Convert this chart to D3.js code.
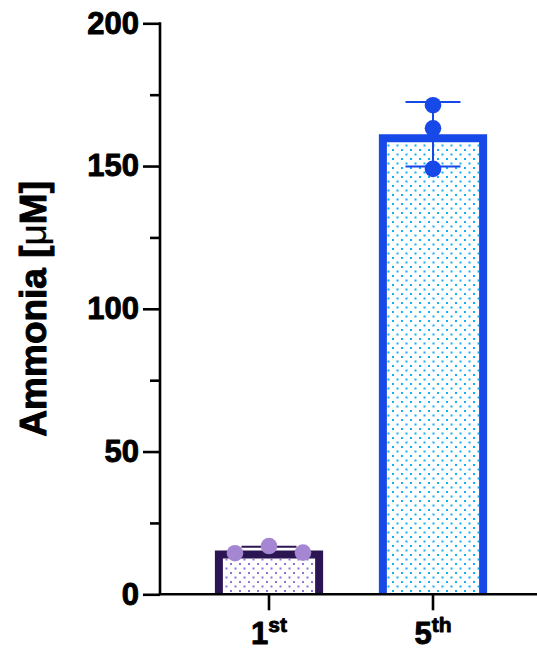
<!DOCTYPE html>
<html>
<head>
<meta charset="utf-8">
<script src="https://cdn.jsdelivr.net/npm/d3@7"></script>
<style>
  html, body { margin: 0; padding: 0; background: #fff; }
  svg { display: block; }
  text { font-family: "Liberation Sans", Arial, sans-serif; font-weight: bold; }
</style>
</head>
<body>
<svg id="chart" width="537" height="652"></svg>
<script>
// Passage groups and their replicate ammonia measurements (µM)
const categories = ["1st", "5th"];
const tickBase = ["1", "5"];
const tickSup = ["st", "th"];
const replicates = [
  [14.4, 16.9, 14.6],
  [171.3, 163.2, 149.0]
];
const yMajorTicks = [0, 50, 100, 150, 200];
const yMinorTicks = [25, 75, 125, 175];
const yTitle = "Ammonia [";
const yUnitPrefix = "\u03bc";
const yTitleEnd = "M]";

// Per-group styling
const strokeColors = ["#2b1653", "#1748e8"];
const dotColors = ["#a586d2", "#1748e8"];
const patternColors = ["#9472d4", "#12b0f4"];

const W = 537, H = 652;
const svg = d3.select("#chart");

const y = d3.scaleLinear().domain([0, 200]).range([594.3, 23.3]);
const x = d3.scaleBand().domain(categories).range([187, 515])
  .paddingInner(0.34).paddingOuter(0.17);
const axisX = 160;

const mean = a => d3.mean(a);
const sd = a => d3.deviation(a);

// Heavier text rendering
const heavy = (sel, w) => sel.attr("stroke", "#000").attr("stroke-width", w)
  .attr("stroke-linejoin", "round").attr("paint-order", "stroke");

// Dotted fill patterns
const defs = svg.append("defs");
categories.forEach((c, i) => {
  const p = defs.append("pattern")
    .attr("id", "pat" + i)
    .attr("patternUnits", "userSpaceOnUse")
    .attr("width", 9).attr("height", 9);
  p.append("rect").attr("width", 9).attr("height", 9).attr("fill", "#fff");
  p.append("rect").attr("x", 0.5).attr("y", 0.5).attr("width", 2).attr("height", 2).attr("fill", patternColors[i]);
  p.append("rect").attr("x", 5).attr("y", 5).attr("width", 2).attr("height", 2).attr("fill", patternColors[i]);
});

// Bars: outer edge sits on the mean, border drawn inward
const sw = 8;
const bars = svg.append("g");
categories.forEach((c, i) => {
  const m = mean(replicates[i]);
  const x0 = x(c), bw = x.bandwidth();
  const yt = y(m), yb = y(0);
  bars.append("rect")
    .attr("x", x0 + sw).attr("y", yt + sw)
    .attr("width", bw - 2 * sw).attr("height", yb - yt - sw)
    .attr("fill", `url(#pat${i})`);
  bars.append("path")
    .attr("d", `M${x0 + sw / 2},${yb} V${yt + sw / 2} H${x0 + bw - sw / 2} V${yb}`)
    .attr("fill", "none")
    .attr("stroke", strokeColors[i])
    .attr("stroke-width", sw)
    .attr("stroke-linejoin", "miter");
});

// Error bars (mean ± SD)
const capW = 55;
const errs = svg.append("g");
categories.forEach((c, i) => {
  const m = mean(replicates[i]), s = sd(replicates[i]);
  const cx = x(c) + x.bandwidth() / 2;
  const col = strokeColors[i];
  errs.append("line").attr("x1", cx).attr("x2", cx)
    .attr("y1", y(m - s)).attr("y2", y(m + s))
    .attr("stroke", col).attr("stroke-width", 2);
  [m - s, m + s].forEach(v => {
    errs.append("line").attr("x1", cx - capW / 2).attr("x2", cx + capW / 2)
      .attr("y1", y(v)).attr("y2", y(v))
      .attr("stroke", col).attr("stroke-width", 2);
  });
});

// Replicate points, spread sideways where they would overlap
const r = 8.3, spread = 34;
const dots = svg.append("g");
categories.forEach((c, i) => {
  const cx = x(c) + x.bandwidth() / 2;
  const vals = replicates[i];
  const order = d3.range(vals.length).sort((a, b) => vals[b] - vals[a]);
  const placed = [];
  order.forEach(k => {
    const py = y(vals[k]);
    const tries = [0, spread, -spread, 2 * spread, -2 * spread];
    let off = 0;
    for (const t of tries) {
      if (!placed.some(p => Math.abs(p.dx - t) < 2 * r && Math.abs(p.py - py) < 2 * r)) { off = t; break; }
    }
    placed.push({ dx: off, py });
    dots.append("circle").attr("cx", cx + off).attr("cy", py).attr("r", r)
      .attr("fill", dotColors[i]);
  });
});

// Y axis
const yAxis = svg.append("g").attr("transform", `translate(${axisX},0)`)
  .call(d3.axisLeft(y).tickValues(yMajorTicks).tickSize(17).tickSizeOuter(0).tickPadding(4));
yAxis.select(".domain").attr("stroke-width", 2.6).attr("d", `M0,${y(200) - 1}V${y(0)}`);
yAxis.selectAll(".tick line").attr("stroke-width", 2.6);
yAxis.selectAll(".tick text").attr("font-size", 31).attr("fill", "#000")
  .attr("font-family", "'Liberation Sans', Arial, sans-serif").attr("font-weight", "bold")
  .call(heavy, 0.9);

const yMinor = svg.append("g").attr("transform", `translate(${axisX},0)`)
  .call(d3.axisLeft(y).tickValues(yMinorTicks).tickSize(10).tickSizeOuter(0).tickFormat(""));
yMinor.select(".domain").remove();
yMinor.selectAll(".tick line").attr("stroke-width", 2.6);

// X axis
svg.append("line").attr("x1", axisX - 1.3).attr("x2", W).attr("y1", y(0)).attr("y2", y(0))
  .attr("stroke", "#000").attr("stroke-width", 2.6);
const xt = svg.append("g");
categories.forEach((c, i) => {
  const cx = x(c) + x.bandwidth() / 2;
  xt.append("line").attr("x1", cx).attr("x2", cx).attr("y1", y(0)).attr("y2", y(0) + 16)
    .attr("stroke", "#000").attr("stroke-width", 2.6);
  const t = xt.append("text").attr("x", cx).attr("y", 644)
    .attr("text-anchor", "middle").attr("font-size", 31).attr("fill", "#000")
    .call(heavy, 0.9);
  t.append("tspan").text(tickBase[i]);
  t.append("tspan").attr("font-size", 21).attr("dy", -12).text(tickSup[i]);
});

// Y axis title
const yt = svg.append("text")
  .attr("transform", `translate(46,${(y(0) + y(200)) / 2}) rotate(-90)`)
  .attr("text-anchor", "middle").attr("font-size", 37).attr("fill", "#000")
  .call(heavy, 1);
yt.append("tspan").text(yTitle);
yt.append("tspan").attr("font-weight", "normal").attr("stroke-width", 0.3).text(yUnitPrefix);
yt.append("tspan").text(yTitleEnd);
</script>
</body>
</html>
